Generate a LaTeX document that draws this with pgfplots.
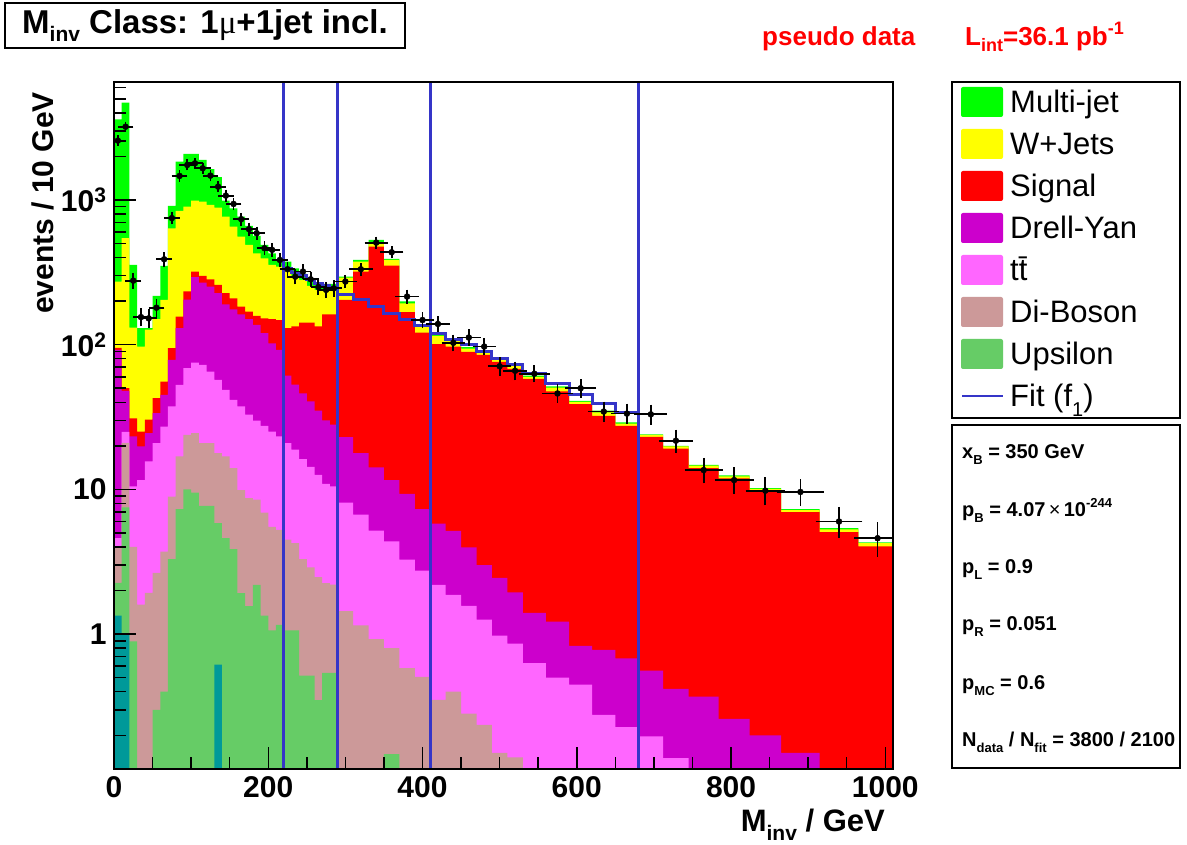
\documentclass[border=0pt]{standalone}
\usepackage{pgfplots}
\pgfplotsset{compat=1.18}
\usepackage{pgfplotstable}
\usepackage{graphicx}
\usepackage{fontspec}
\setmainfont{Liberation Sans}
\newfontfamily\serif{Liberation Serif}
\definecolor{cMJ}{HTML}{00FF00}
\definecolor{cWJ}{HTML}{FFFF00}
\definecolor{cSig}{HTML}{FF0000}
\definecolor{cDY}{HTML}{CC00CC}
\definecolor{cTT}{HTML}{FF66FF}
\definecolor{cDB}{HTML}{CC9999}
\definecolor{cUps}{HTML}{66CC66}
\definecolor{cTeal}{HTML}{009999}
\definecolor{cFit}{HTML}{3535C8}
\newcommand{\fs}[1]{\fontsize{#1}{#1}\selectfont}
\newcommand{\tk}[1]{{\bfseries\fs{30}#1}}

\pgfplotstableread{
x    G      Y      R      M      P      D      U      T
0    0.01   0.01   0.01   0.01   0.01   0.01   0.01   0.01
0    3600   273    95     92     4.6    4.0    2.26   1.34
10   4700   544    50     48     25     21     7.5    1.0
20   356    131    31     23.2   10.5   4.0    0.89   0.01
30   130    97     25.1   19.8   11.6   1.6    0.01   0.01
40   130    127    30.3   24.5   15.6   1.93   0.01   0.01
50   217    150    42.7   33.6   20.9   2.65   0.30   0.01
60   350    204    55.6   45     27.2   3.72   0.40   0.01
70   910    637    94.6   78.5   37.4   8.9    3.3    0.01
80   1840   839    156    130    52.8   16.9   7.3    0.01
90   2080   900    233    205    68.8   23.8   10.0   0.01
100  2080   990    320    293    75.2   24.5   9.5    0.01
110  1890   973    299    268    72.4   20.9   7.7    0.01
120  1630   923    283    252    65.2   20.9   7.7    0.01
130  1435   885    259    227    57.1   17.8   5.85   0.615
140  990    767    227    190    48.7   16.9   4.6    0.01
150  876    655    209    175    41.6   14     3.87   0.01
160  767    558    183    162    37.4   9.9    1.92   0.01
170  661    489    169    150    32.8   8.7    1.56   0.01
180  564    428    158    137    29.9   8.5    2.19   0.01
190  489    395    152    120    27.5   6.9    1.34   0.01
200  428    356    150    102    25.1   5.5    1.06   0.01
210  385    346    148    92     23.2   5.26   1.16   0.01
220  375    325    130    61     20.9   4.49   1.06   0.01
230  337    299    134    53     18.8   4.26   1.06   0.01
240  308    280    142    46     16.2   3.3    0.516  0.01
250  288    255    142    40.5   14.3   2.89   0.516  0.01
260  266    239    134    35     12.6   2.48   0.35   0.01
270  263    242    162    30     10.9   2.25   0.54   0.01
280  263    242    162    28     10.5   2.2    0.54   0.01
290  295    290    204    23     8.1    1.44   0.01   0.01
310  385    375    320    17.8   6.7    1.15   0.01   0.01
330  530    510    476    14.2   5.2    0.925  0.01   0.01
350  392    385    352    11.6   4.37   0.80   0.148  0.01
370  199    193    168    9.3    3.27   0.583  0.01   0.01
390  137    132    121    7.3    2.75   0.506  0.01   0.01
410  117    115    101    5.8    2.19   0.352  0.01   0.01
430  108    106    97     5.17   1.87   0.40   0.01   0.01
450  96     94     89     3.97   1.57   0.282  0.01   0.01
470  89     88     85     3.0    1.26   0.236  0.01   0.01
490  80     79     76     2.45   0.975  0.151  0.01   0.01
510  72     71     68     1.94   0.86   0.141  0.01   0.01
530  61     60     58     1.40   0.63   0.01   0.01   0.01
560  51.6   50.5   47.6   1.22   0.50   0.01   0.01   0.01
590  40.9   40.3   38.8   0.83   0.447  0.01   0.01   0.01
620  35     34     32.2   0.78   0.277  0.01   0.01   0.01
650  29     28.5   27.5   0.68   0.228  0.01   0.01   0.01
680  24     23.8   23.1   0.56   0.197  0.01   0.01   0.01
712  20     19.8   19.1   0.418  0.139  0.01   0.01   0.01
745  14.8   14.6   14.0   0.37   0.01   0.01   0.01   0.01
784  12.5   12.3   11.9   0.26   0.01   0.01   0.01   0.01
824  10.2   10.1   9.8    0.20   0.01   0.01   0.01   0.01
865  7.3    7.2    6.97   0.151  0.01   0.01   0.01   0.01
915  5.4    5.3    5.06   0.01   0.01   0.01   0.01   0.01
965  4.3    4.25   4.04   0.01   0.01   0.01   0.01   0.01
1015 4.3    4.25   4.04   0.01   0.01   0.01   0.01   0.01
1015 0.01   0.01   0.01   0.01   0.01   0.01   0.01   0.01
}\stack

\pgfplotstableread{
x    F
220  337
230  315
240  299
250  280
260  266
270  255
280  250
290  223
310  204
330  183
350  165
370  150
390  135
410  120
430  109
450  99.7
470  89.6
490  80.7
510  72.5
530  63.7
560  53.6
590  45.6
620  39.2
650  34
680  34
}\fit

\pgfplotstableread{
x      y      ex    ey
5      2570   5     50.7
15     3205   5     56.6
25     277    5     16.6
35     155    5     12.4
45     152    5     12.3
55     180    5     13.4
65     389    5     19.7
75     749    5     27.4
85     1465   5     38.3
95     1745   5     41.8
105    1790   5     42.3
115    1655   5     40.7
125    1472   5     38.4
135    1236   5     35.2
145    1071   5     32.7
155    938    5     30.6
165    736    5     27.1
175    628    5     25.1
185    589    5     24.3
195    464    5     21.5
205    452    5     21.3
215    385    5     19.6
225    332    5     18.2
235    295    5     17.2
245    320    5     17.9
255    283    5     16.8
265    250    5     15.8
275    239    5     15.5
285    245    5     15.7
300    273    10    11.7
320    332    10    12.9
340    507    10    15.9
360    435    10    14.7
380    215    10    10.4
400    148    10    8.6
420    139    10    8.3
440    103    10    7.2
460    112    10    7.5
480    97     10    7.0
500    71     10    6.0
520    66     10    5.7
545    63     15    4.6
575    46     15    3.9
605    50     15    4.1
635    34.5   15    3.4
665    33.4   15    3.3
696    33     16    3.2
728.5  21.7   16.5  2.56
764.5  13.6   19.5  1.87
804    11.6   20    1.70
844.5  9.8    20.5  1.55
890    9.6    25    1.39
940    6.0    25    1.10
990    4.6    25    0.96
}\data

\begin{document}
\begin{tikzpicture}
\path[use as bounding box] (0pt,0pt) rectangle (1187pt,845pt);
\begin{axis}[
  at={(114pt,76pt)}, anchor=south west,
  scale only axis, width=779pt, height=687pt,
  xmin=0, xmax=1010, ymin=0.117, ymax=6530,
  ymode=log,
  axis on top,
  axis line style={line width=1.5pt},
  tick style={black, line width=1.5pt},
  tick align=inside,
  major tick length=22pt, minor tick length=12pt,
  xtick pos=bottom, ytick pos=left,
  xtick={0,200,400,600,800,1000},
  xticklabels={\tk{0},\tk{200},\tk{400},\tk{600},\tk{800},\tk{1000}},
  minor xtick={50,100,150,250,300,350,450,500,550,650,700,750,850,900,950},
  ytick={1,10,100,1000},
  yticklabels={\tk{1},\tk{10},\tk{10\textsuperscript{2}},\tk{10\textsuperscript{3}}},
  minor ytick={0.2,0.3,0.4,0.5,0.6,0.7,0.8,0.9,2,3,4,5,6,7,8,9,20,30,40,50,60,70,80,90,200,300,400,500,600,700,800,900,2000,3000,4000,5000,6000},
  xticklabel style={yshift=-4pt},
  yticklabel style={xshift=-4pt},
]
\addplot[const plot, fill=cMJ, draw=none] table[x=x,y=G] {\stack};
\addplot[const plot, fill=cWJ, draw=none] table[x=x,y=Y] {\stack};
\addplot[const plot, fill=cSig, draw=none] table[x=x,y=R] {\stack};
\addplot[const plot, fill=cDY, draw=none] table[x=x,y=M] {\stack};
\addplot[const plot, fill=cTT, draw=none] table[x=x,y=P] {\stack};
\addplot[const plot, fill=cDB, draw=none] table[x=x,y=D] {\stack};
\addplot[const plot, fill=cUps, draw=none] table[x=x,y=U] {\stack};
\addplot[const plot, fill=cTeal, draw=none] table[x=x,y=T] {\stack};
\addplot[const plot, cFit, line width=3pt] table[x=x,y=F] {\fit};
\addplot[cFit, line width=3pt] coordinates {(220,0.117) (220,6530)};
\addplot[cFit, line width=3pt] coordinates {(290,0.117) (290,6530)};
\addplot[cFit, line width=3pt] coordinates {(410,0.117) (410,6530)};
\addplot[cFit, line width=3pt] coordinates {(680,0.117) (680,6530)};
\addplot[black, only marks, mark=*, mark size=3pt,
  error bars/.cd, x dir=both, x explicit, y dir=both, y explicit,
  error bar style={line width=1.8pt},
  error mark options={line width=1.8pt, mark size=4pt}]
  table[x=x, y=y, x error=ex, y error=ey] {\data};
\end{axis}
% y label
\node[rotate=90, font=\bfseries\fs{30}] at (43pt,642pt) {events / 10 GeV};
% x label
\node[anchor=base east, font=\bfseries\fs{31}, inner sep=0pt] at (885pt,13pt) {M\raisebox{-9pt}{\fs{21}inv} / GeV};
% title box
\draw[line width=1.5pt, fill=white] (5pt,797pt) rectangle (405pt,842pt);
\node[font=\bfseries\fs{33}, inner sep=0pt] at (205pt,819pt) {M\raisebox{-8pt}{\fs{21}inv} Class: 1{\serif\mdseries μ}+1jet incl.};
% red text
\node[anchor=base west, font=\bfseries\fs{26}, text=red, inner sep=0pt] at (762pt,799pt) {pseudo data};
\node[anchor=base west, font=\bfseries\fs{26}, text=red, inner sep=0pt] at (965pt,799pt) {L\raisebox{-6pt}{\fs{18}int}=36.1 pb\raisebox{11pt}{\fs{18}-1}};
% legend
\draw[line width=1.5pt, fill=white] (952pt,427pt) rectangle (1180pt,763pt);
\foreach \c/\yy/\t in {cMJ/743/Multi-jet, cWJ/701/W+Jets, cSig/659/Signal, cDY/617/Drell-Yan, cTT/575/t\=t, cDB/533/Di-Boson, cUps/491/Upsilon}{
  \fill[\c, rounded corners=2pt] (961pt,\yy pt-15pt) rectangle (1003pt,\yy pt+15pt);
  \node[anchor=base west, font=\fs{31}, inner sep=0pt] at (1010pt,\yy pt-11pt) {\t};
}
\draw[cFit, line width=2.5pt] (962pt,449pt) -- (1003pt,449pt);
\node[anchor=base west, font=\fs{31}, inner sep=0pt] at (1010pt,438pt) {Fit (f\raisebox{-10pt}{\fs{20}1})};
% stats box
\draw[line width=1.5pt, fill=white] (952pt,77pt) rectangle (1180pt,420pt);
\begin{scope}[every node/.style={anchor=base west, font=\bfseries\fs{20}, inner sep=0pt}]
\node at (962pt,386pt) {x\raisebox{-6pt}{\fs{13}B} = 350 GeV};
\node at (962pt,328pt) {p\raisebox{-6pt}{\fs{13}B} = 4.07\,{\mdseries ×}\,10\raisebox{9pt}{\fs{13}-244}};
\node at (962pt,271pt) {p\raisebox{-6pt}{\fs{13}L} = 0.9};
\node at (962pt,214pt) {p\raisebox{-6pt}{\fs{13}R} = 0.051};
\node at (962pt,155pt) {p\raisebox{-6pt}{\fs{13}MC} = 0.6};
\node at (962pt,98pt) {N\raisebox{-6pt}{\fs{13}data} / N\raisebox{-6pt}{\fs{13}fit} = 3800 / 2100};
\end{scope}
\end{tikzpicture}
\end{document}
